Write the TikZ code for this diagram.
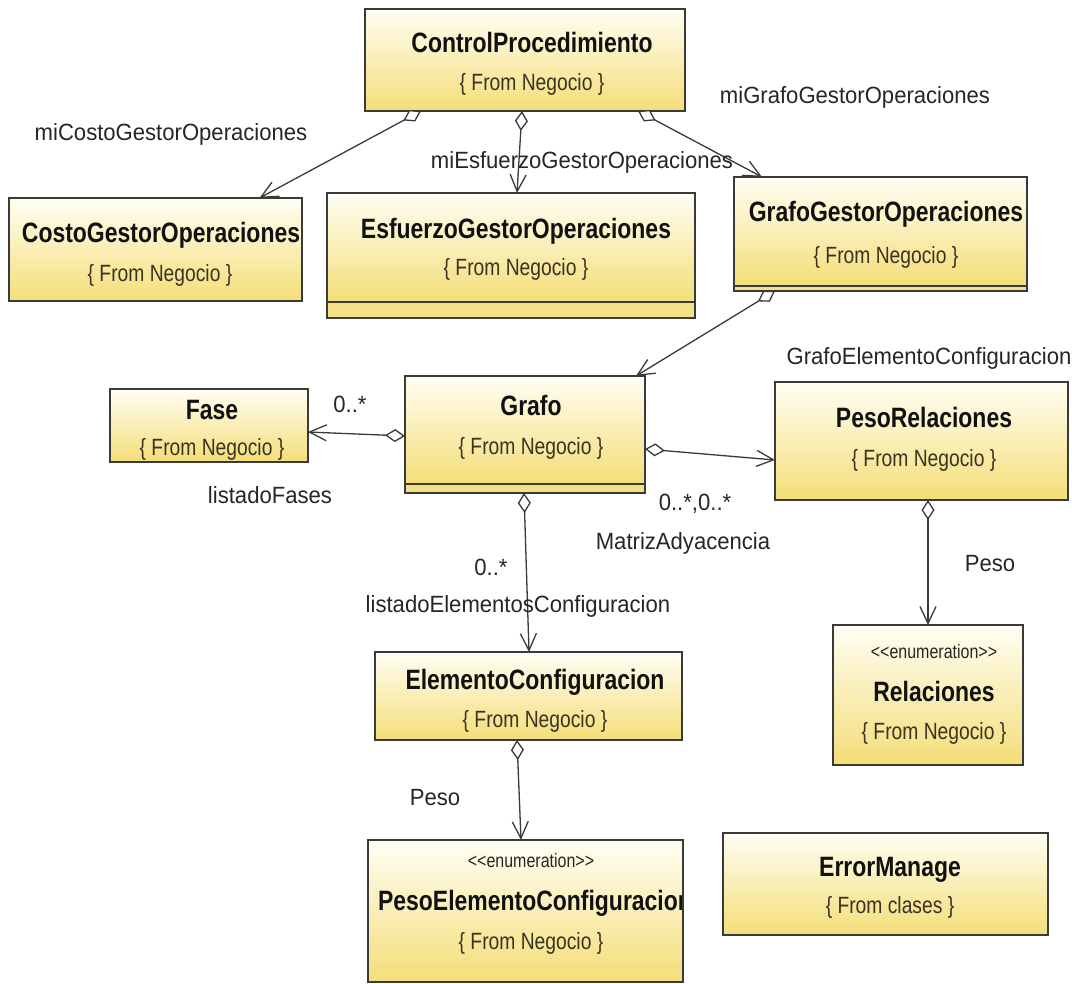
\documentclass[tikz,border=0pt]{standalone}
\usepackage{fontspec}
\setmainfont{Liberation Sans}
\newfontfamily\fuentecaja{Liberation Sans}[FakeStretch=0.82]
\newfontfamily\fuenteetiq{Liberation Sans}[FakeStretch=0.94]
\usetikzlibrary{arrows.meta,fit}
\definecolor{tinta}{HTML}{111111}
\definecolor{tinta2}{HTML}{262626}
\definecolor{borde}{HTML}{3A3A3A}
\definecolor{crema}{HTML}{FFFEF4}
\definecolor{amarillo}{HTML}{F4DE78}
\definecolor{marron}{HTML}{3A3320}
\tikzset{
  caja/.style={draw=borde,line width=1.6pt,top color=crema,bottom color=amarillo,inner sep=0pt,outer sep=0pt},
  franja/.style={draw=borde,line width=1.6pt,fill=amarillo!90,inner sep=0pt,outer sep=0pt},
  titulo/.style={font=\fuentecaja\fontsize{28}{30}\selectfont\bfseries,text=tinta,inner sep=0pt,anchor=base,yshift=-10pt},
  origen/.style={font=\fuentecaja\fontsize{23.5}{26}\selectfont,text=marron,inner sep=0pt,anchor=base,yshift=-8.5pt},
  estereo/.style={font=\fuentecaja\fontsize{19.5}{22}\selectfont,text=tinta2,inner sep=0pt,anchor=base,yshift=-6pt},
  etiqueta/.style={font=\fuenteetiq\fontsize{23.5}{26}\selectfont,text=tinta2,inner sep=0pt,anchor=base,yshift=-8.4pt},
  asoc/.style={draw=borde,line width=1.3pt,arrows={Diamond[fill=white,length=20pt,width=13pt]-Straight Barb[length=17pt,width=16pt]}},
}
\begin{document}
\begin{tikzpicture}[x=1pt,y=-1pt]
\fill[white] (0,0) rectangle (1072,984);
\useasboundingbox (0,0) rectangle (1072,984);
% clases
\node[caja,fit={(365,9) (685,111)}] (cp) {};
\node[titulo] (cp-t) at (532,43) {ControlProcedimiento};
\node[origen] (cp-o) at (532,82) {\{ From Negocio \}};
\node[caja,fit={(9,198) (302,301)}] (costo) {};
\node[titulo] (costo-t) at (161,233) {CostoGestorOperaciones};
\node[origen] (costo-o) at (160,273) {\{ From Negocio \}};
\node[caja,fit={(327,193) (695,302)}] (esf) {};
\node[franja,fit={(327,302) (695,318)}] (esf-f) {};
\node[titulo] (esf-t) at (516,229) {EsfuerzoGestorOperaciones};
\node[origen] (esf-o) at (516,267) {\{ From Negocio \}};
\node[caja,fit={(734,177) (1027,286)}] (ggo) {};
\node[franja,fit={(734,286) (1027,291)}] (ggo-f) {};
\node[titulo] (ggo-t) at (886,212) {GrafoGestorOperaciones};
\node[origen] (ggo-o) at (886,255) {\{ From Negocio \}};
\node[caja,fit={(110,389) (308,462)}] (fase) {};
\node[titulo] (fase-t) at (212,410) {Fase};
\node[origen] (fase-o) at (212,447) {\{ From Negocio \}};
\node[caja,fit={(405,376) (645,484)}] (grafo) {};
\node[franja,fit={(405,484) (645,493)}] (grafo-f) {};
\node[titulo] (grafo-t) at (531,406) {Grafo};
\node[origen] (grafo-o) at (531,446) {\{ From Negocio \}};
\node[caja,fit={(775,382) (1068,500)}] (pesorel) {};
\node[titulo] (pesorel-t) at (924,418) {PesoRelaciones};
\node[origen] (pesorel-o) at (924,458) {\{ From Negocio \}};
\node[caja,fit={(375,652) (682,740)}] (elem) {};
\node[titulo] (elem-t) at (535,679) {ElementoConfiguracion};
\node[origen] (elem-o) at (535,719) {\{ From Negocio \}};
\node[caja,fit={(833,625) (1023,765)}] (rel) {};
\node[estereo] (rel-e) at (934,652) {{<}{<}enumeration{>}{>}};
\node[titulo] (rel-t) at (934,691) {Relaciones};
\node[origen] (rel-o) at (934,731) {\{ From Negocio \}};
\node[caja,fit={(368,840) (683,982)}] (pesoel) {};
\node[estereo] (pesoel-e) at (531,861) {{<}{<}enumeration{>}{>}};
\begin{scope}
\clip (368,840) rectangle (683,982);
\node[titulo] (pesoel-t) at (535,900) {PesoElementoConfiguracion};
\end{scope}
\draw[borde,line width=1.6pt] (pesoel.north east) -- (pesoel.south east);
\node[origen] (pesoel-o) at (531,941) {\{ From Negocio \}};
\node[caja,fit={(723,833) (1048,935)}] (error) {};
\node[titulo] (error-t) at (890,866) {ErrorManage};
\node[origen] (error-o) at (890,905) {\{ From clases \}};
% asociaciones
\draw[asoc] ([xshift=-104pt]cp.south) -- ([xshift=104pt]costo.north);
\draw[asoc] ([xshift=-3pt]cp.south) -- ([xshift=6pt]esf.north);
\draw[asoc] ([xshift=113pt]cp.south) -- ([xshift=-118.5pt]ggo.north);
\draw[asoc] ([xshift=-105.5pt]ggo-f.south) -- ([xshift=111pt]grafo.north);
\draw[asoc] ([yshift=-6pt]grafo.west) -- ([yshift=-6.5pt]fase.east);
\draw[asoc] ([yshift=-19pt]grafo.east) -- ([yshift=-19pt]pesorel.west);
\draw[asoc] ([xshift=-1pt]grafo-f.south) -- ([xshift=0.5pt]elem.north);
\draw[asoc] ([xshift=6.5pt]pesorel.south) -- (rel.north);
\draw[asoc] ([xshift=-11.5pt]elem.south) -- ([xshift=-4.5pt]pesoel.north);
% roles y multiplicidades
\node[etiqueta] (rol-costo) at (171,132) {miCostoGestorOperaciones};
\node[etiqueta] (rol-esf) at (582,160) {miEsfuerzoGestorOperaciones};
\node[etiqueta] (rol-ggo) at (855,95) {miGrafoGestorOperaciones};
\node[etiqueta] (rol-grafo) at (929,356) {GrafoElementoConfiguracion};
\node[etiqueta] (mult-fase) at (350,404) {0..*};
\node[etiqueta] (rol-fase) at (270,495) {listadoFases};
\node[etiqueta] (mult-matriz) at (695,502) {0..*,0..*};
\node[etiqueta] (rol-matriz) at (683,541) {MatrizAdyacencia};
\node[etiqueta] (mult-elem) at (491,567) {0..*};
\node[etiqueta] (rol-elem) at (518,604) {listadoElementosConfiguracion};
\node[etiqueta] (rol-peso1) at (990,563) {Peso};
\node[etiqueta] (rol-peso2) at (435,797) {Peso};
\end{tikzpicture}
\end{document}
